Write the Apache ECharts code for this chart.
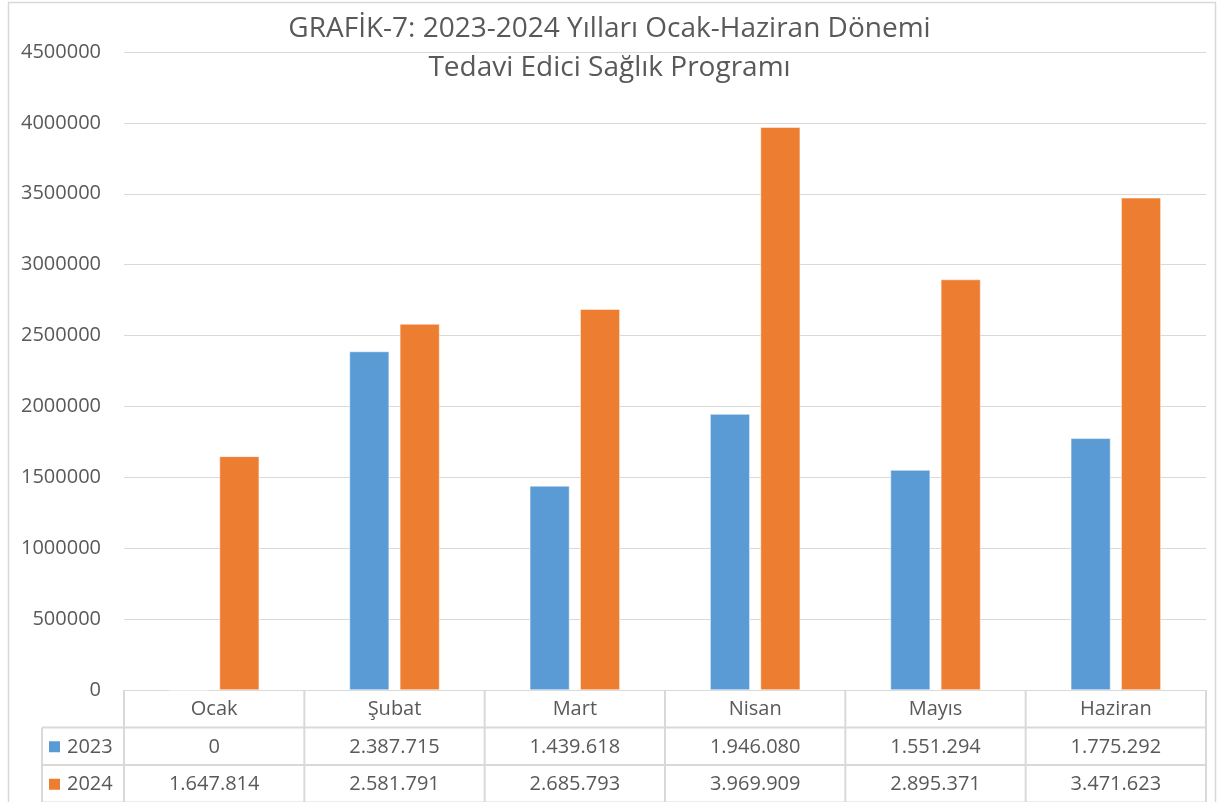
<!DOCTYPE html>
<html>
<head>
<meta charset="utf-8">
<script src="https://cdn.jsdelivr.net/npm/echarts@6/dist/echarts.min.js"></script>
<style>
  html, body { margin: 0; padding: 0; background: #fff; }
  #chart { width: 1219px; height: 802px; }
</style>
</head>
<body>
<div id="chart"></div>
<script>
const categories = ["Ocak", "Şubat", "Mart", "Nisan", "Mayıs", "Haziran"];
const seriesNames = ["2023", "2024"];
const values2023 = [0, 2387715, 1439618, 1946080, 1551294, 1775292];
const values2024 = [1647814, 2581791, 2685793, 3969909, 2895371, 3471623];
const yMin = 0;
const yMax = 4500000;
const yStep = 500000;

const colors = ["#5B9BD5", "#ED7D31"];
const textColor = "#595959";
const lineColor = "#D9D9D9";
const font = "Open Sans";

// 1647814 -> "1.647.814"
function fmt(v) {
  return String(v).replace(/\B(?=(\d{3})+(?!\d))/g, ".");
}

const chart = echarts.init(document.getElementById("chart"));

const option = {
  animation: false,
  backgroundColor: "#fff",
  color: colors,
  title: {
    text: "GRAFİK-7: 2023-2024 Yılları Ocak-Haziran Dönemi\nTedavi Edici Sağlık Programı",
    left: "center",
    top: 5,
    textStyle: {
      color: textColor,
      fontFamily: font,
      fontWeight: "normal",
      fontSize: 28,
      lineHeight: 39,
    },
  },
  grid: {
    left: 124,
    right: 13,
    top: 52,
    bottom: 112,
  },
  xAxis: {
    type: "category",
    data: categories,
    axisLine: { lineStyle: { color: lineColor, width: 1 } },
    axisTick: { show: false },
    axisLabel: { show: false },
  },
  yAxis: {
    type: "value",
    min: yMin,
    max: yMax,
    interval: yStep,
    axisLine: { show: false },
    axisTick: { show: false },
    axisLabel: {
      color: textColor,
      fontFamily: font,
      fontSize: 20,
      margin: 23,
      formatter: (v) => String(v),
    },
    splitLine: { lineStyle: { color: lineColor, width: 1 } },
  },
  series: [
    {
      name: seriesNames[0],
      type: "bar",
      data: values2023,
      barWidth: "22%",
      barGap: "27%",
      itemStyle: { color: colors[0], borderColor: "#fff", borderWidth: 0.5 },
    },
    {
      name: seriesNames[1],
      type: "bar",
      data: values2024,
      barWidth: "22%",
      barGap: "27%",
      itemStyle: { color: colors[1], borderColor: "#fff", borderWidth: 0.5 },
    },
  ],
};

chart.setOption(option);

// veri tablosu (x ekseni altında)
function buildTable() {
  const y0 = chart.convertToPixel({ yAxisIndex: 0 }, 0);
  const c0 = chart.convertToPixel({ xAxisIndex: 0 }, 0);
  const c1 = chart.convertToPixel({ xAxisIndex: 0 }, 1);
  const band = c1 - c0;
  const left = c0 - band / 2;
  const right = left + band * categories.length;
  const rowH = 37.5;
  const keyLeft = left - 82;
  const rows = [values2023, values2024];

  const els = [];
  const line = (x1, y1, x2, y2) =>
    els.push({
      type: "line",
      shape: { x1, y1, x2, y2 },
      style: { stroke: lineColor, lineWidth: 2 },
      silent: true,
    });
  const text = (x, y, t, align) =>
    els.push({
      type: "text",
      x,
      y,
      style: {
        text: t,
        fill: textColor,
        font: "20px '" + font + "'",
        align: align || "center",
        verticalAlign: "middle",
      },
      silent: true,
    });

  // çerçeve
  els.push({
    type: "rect",
    shape: { x: 8.5, y: 2.5, width: 1207, height: 900 },
    style: { fill: "none", stroke: lineColor, lineWidth: 1.5 },
    silent: true,
    z: -1,
  });

  line(keyLeft, y0 + rowH, right, y0 + rowH);
  line(keyLeft, y0 + 2 * rowH, right, y0 + 2 * rowH);
  line(keyLeft, y0 + 3 * rowH, right, y0 + 3 * rowH);
  line(keyLeft, y0 + rowH, keyLeft, y0 + 3 * rowH);
  for (let i = 0; i <= categories.length; i++) {
    const x = left + i * band;
    line(x, y0, x, y0 + 3 * rowH);
  }

  categories.forEach((c, i) => {
    const cx = chart.convertToPixel({ xAxisIndex: 0 }, i);
    text(cx, y0 + rowH / 2 + 1, c);
    rows.forEach((r, k) => {
      text(cx, y0 + rowH * (k + 1.5) + 1, fmt(r[i]));
    });
  });

  seriesNames.forEach((n, k) => {
    const cy = y0 + rowH * (k + 1.5);
    els.push({
      type: "rect",
      shape: { x: keyLeft + 7, y: cy - 5, width: 11, height: 11 },
      style: { fill: colors[k] },
      silent: true,
    });
    text(keyLeft + 25, cy + 1, n, "left");
  });

  chart.setOption({ graphic: { elements: els } });
}

buildTable();
</script>
</body>
</html>
